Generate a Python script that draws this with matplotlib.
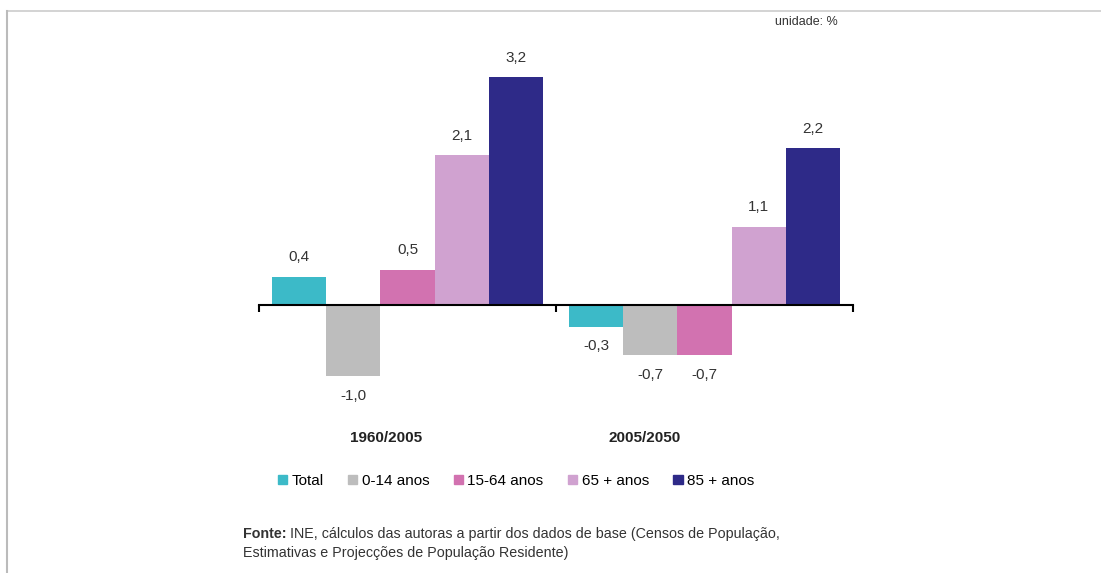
import numpy as np
import matplotlib
matplotlib.use('Agg')
import matplotlib.pyplot as plt
from matplotlib.patches import Patch

periods = ['1960/2005', '2005/2050']
series = ['Total', '0-14 anos', '15-64 anos', '65 + anos', '85 + anos']
values = {
    'Total': [0.4, -0.3],
    '0-14 anos': [-1.0, -0.7],
    '15-64 anos': [0.5, -0.7],
    '65 + anos': [2.1, 1.1],
    '85 + anos': [3.2, 2.2],
}
colors = ['#3cbac8', '#bdbdbd', '#d272b0', '#d0a2d0', '#2e2a88']

plt.rcParams['font.family'] = ['Liberation Sans', 'DejaVu Sans']

fig = plt.figure(figsize=(11.01, 5.73), dpi=100)
ax = fig.add_axes([259 / 1101, 173 / 573, 594 / 1101, 360 / 573])

x = np.arange(len(periods))
w = 0.182
for i, name in enumerate(series):
    pos = x - 2 * w + i * w
    bars = ax.bar(pos, values[name], width=w, color=colors[i], label=name)
    for b, v in zip(bars, values[name]):
        txt = ('%.1f' % v).replace('.', ',')
        if v >= 0:
            ax.annotate(txt, (b.get_x() + w / 2, v), xytext=(0, 9), textcoords='offset points',
                        ha='center', va='bottom', fontsize=11, color='#333333')
        else:
            ax.annotate(txt, (b.get_x() + w / 2, v), xytext=(0, -9), textcoords='offset points',
                        ha='center', va='top', fontsize=11, color='#333333')

ax.set_xlim(-0.5, 1.5)
ax.set_ylim(-1.33, 3.72)
for s in ['left', 'right', 'top']:
    ax.spines[s].set_visible(False)
ax.spines['bottom'].set_position(('data', 0))
ax.spines['bottom'].set_linewidth(1.5)
ax.set_yticks([])
ax.set_xticks([-0.5, 0.5, 1.5])
ax.set_xticklabels([])
ax.tick_params(axis='x', direction='out', length=5, width=1.5)

# period labels below chart
label_x = [-0.072, 0.80]
for lx, p in zip(label_x, periods):
    ax.text(lx, -1.87, p, ha='center', va='center', fontsize=11, fontweight='bold', color='#222222')

handles = [Patch(color=c) for c in colors]
fig.legend(handles, series, loc='center', bbox_to_anchor=(516 / 1101, 1 - 481 / 573), ncol=5,
           frameon=False, fontsize=11, handlelength=0.6, handleheight=0.6, handletextpad=0.3,
           columnspacing=1.6)

fig.text(838 / 1101, 1 - 22 / 573, 'unidade: %', ha='right', va='center', fontsize=9, color='#333333')

# source note
src = fig.text(243 / 1101, 1 - 534 / 573, 'Fonte:', ha='left', va='center', fontsize=10.3,
               fontweight='bold', color='#333333')
ax.annotate(' INE, cálculos das autoras a partir dos dados de base (Censos de População,',
            xy=(1, 0.5), xycoords=src, ha='left', va='center', fontsize=10.3, color='#333333',
            annotation_clip=False)
fig.text(243 / 1101, 1 - 553 / 573, 'Estimativas e Projecções de População Residente)',
         ha='left', va='center', fontsize=10.3, color='#333333')

# frame lines at top and left
fig.add_artist(plt.Line2D([7 / 1101, 1], [1 - 11 / 573, 1 - 11 / 573], color='#cccccc', lw=1.2))
fig.add_artist(plt.Line2D([7 / 1101, 7 / 1101], [0, 1 - 11 / 573], color='#bbbbbb', lw=1.5))

fig.savefig('out.png', dpi=100)
